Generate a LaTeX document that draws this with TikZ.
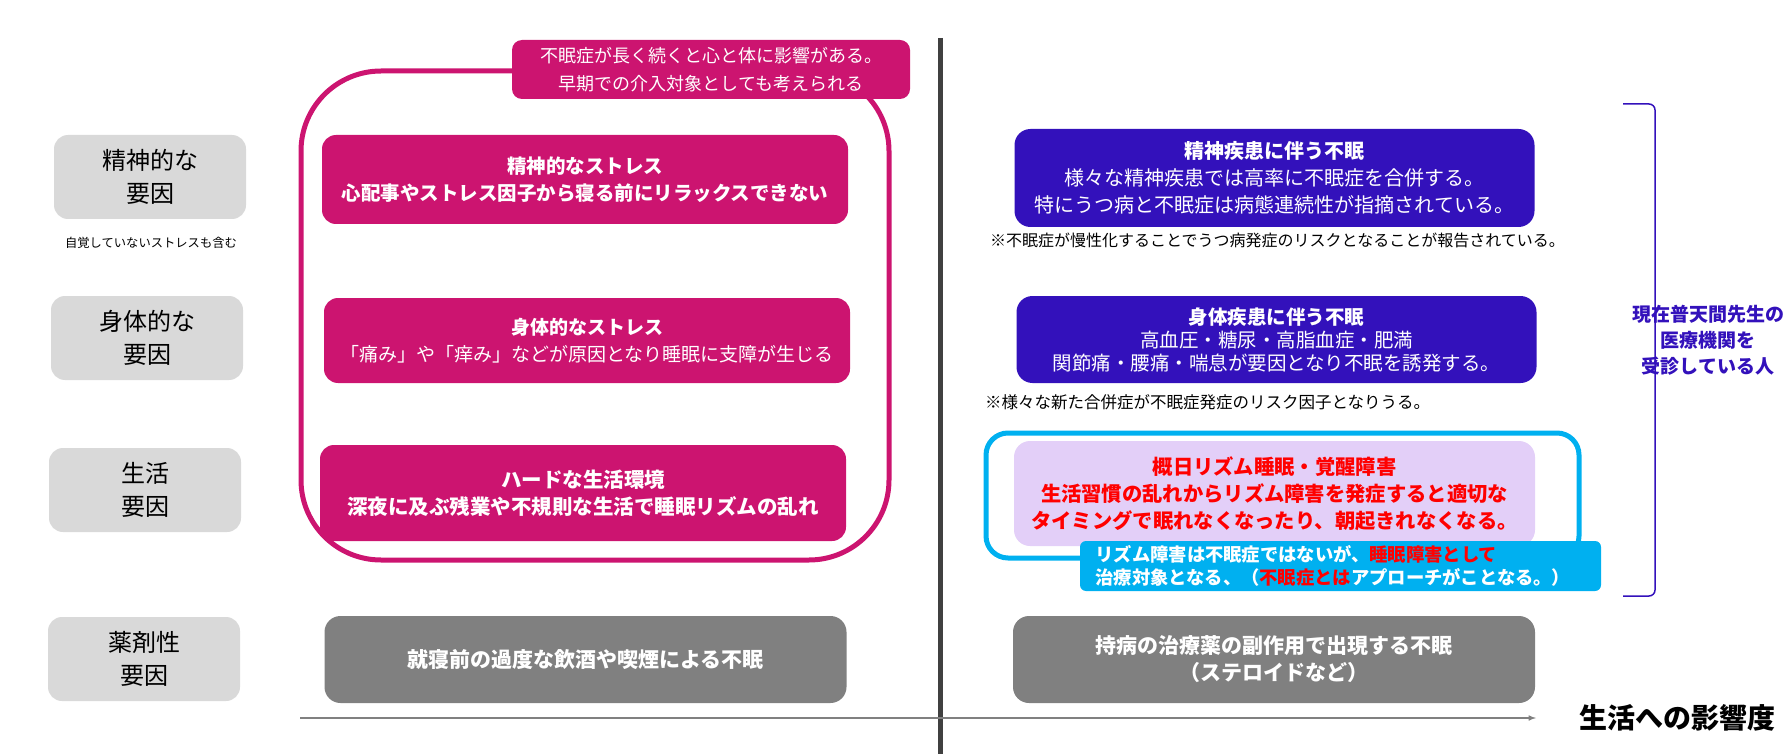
\documentclass[tikz,border=0pt]{standalone}
\usepackage{fontspec}
\setmainfont{Noto Sans CJK JP}
\definecolor{lblgray}{HTML}{D9D9D9}
\definecolor{stressred}{HTML}{CC1470}
\definecolor{diseaseblue}{HTML}{3311BB}
\definecolor{rhythmcyan}{HTML}{00B0F0}
\definecolor{lavender}{HTML}{E3CFF8}
\definecolor{druggray}{HTML}{808080}
\definecolor{divgray}{HTML}{404040}
\begin{document}
\begin{tikzpicture}[x=1pt, y=-1pt, >=latex,
  factor/.style={fill=lblgray, rounded corners=14pt, minimum width=192pt, minimum height=84pt, align=center, font=\fontsize{24}{33}\selectfont},
  stress/.style={fill=stressred, text=white, rounded corners=14pt, minimum width=526pt, align=center},
  disease/.style={fill=diseaseblue, text=white, rounded corners=16pt, minimum width=520pt, align=center},
  drug/.style={fill=druggray, text=white, rounded corners=16pt, minimum width=522pt, minimum height=87pt, align=center, font=\fontsize{21}{27}\selectfont\bfseries},
  remark/.style={anchor=west, inner sep=0pt}]
\useasboundingbox (0,0) rectangle (1791,754);
% Fatores (esquerda)
\node[factor] (mental) at (150,177) {精神的な\\要因};
\node[font=\fontsize{12.3}{15}\selectfont] (unaware) at (151,243) {自覚していないストレスも含む};
\node[factor] (physical) at (147,338) {身体的な\\要因};
\node[factor] (life) at (145,490) {生活\\要因};
\node[factor] (drugf) at (144,659) {薬剤性\\要因};
% Moldura
\node[draw=stressred, line width=5pt, rounded corners=80pt, minimum width=588pt, minimum height=489pt] (frame) at (595,315.5) {};
\node[fill=stressred, text=white, rounded corners=10pt, minimum width=398pt, minimum height=59pt, align=center, font=\fontsize{18}{28}\selectfont] (early) at (711,69.5) {不眠症が長く続くと心と体に影響がある。\\早期での介入対象としても考えられる};
\node[stress, minimum height=89pt, font=\fontsize{19.5}{27}\selectfont\bfseries] (s1) at (585,179.5) {精神的なストレス\\心配事やストレス因子から寝る前にリラックスできない};
\node[stress, minimum height=85pt, font=\fontsize{19}{27}\selectfont] (s2) at (587,340.5) {\textbf{身体的なストレス}\\「痛み」や「痒み」などが原因となり睡眠に支障が生じる};
\node[stress, minimum height=96pt, font=\fontsize{20.5}{27}\selectfont\bfseries] (s3) at (583,493) {ハードな生活環境\\深夜に及ぶ残業や不規則な生活で睡眠リズムの乱れ};
\node[drug] (d1) at (585.5,659.5) {就寝前の過度な飲酒や喫煙による不眠};
% Divisoria e eixo
\coordinate (dtop) at (940,38);
\coordinate (dbot) at (940,754);
\draw[divgray, line width=5pt] (dtop) -- (dbot);
\coordinate (axs) at (300,718);
\coordinate (axe) at (1536,718);
\draw[->, druggray, line width=1.5pt] (axs) -- (axe);
\node[anchor=west, font=\fontsize{28}{30}\selectfont\bfseries] (impact) at (1576,718) {生活への影響度};
% Doencas (direita)
\node[disease, minimum height=98pt, font=\fontsize{20}{27}\selectfont] (b1) at (1274.5,178) {\textbf{精神疾患に伴う不眠}\\様々な精神疾患では高率に不眠症を合併する。\\特にうつ病と不眠症は病態連続性が指摘されている。};
\node[remark, font=\fontsize{16}{18}\selectfont] (n1) at (990,240) {※不眠症が慢性化することでうつ病発症のリスクとなることが報告されている。};
\node[disease, minimum height=87pt, font=\fontsize{19.5}{23}\selectfont] (b2) at (1276.5,339.5) {\textbf{身体疾患に伴う不眠}\\高血圧・糖尿・高脂血症・肥満\\関節痛・腰痛・喘息が要因となり不眠を誘発する。};
\node[remark, font=\fontsize{16.5}{18}\selectfont] (n2) at (985,402) {※様々な新た合併症が不眠症発症のリスク因子となりうる。};
\node[draw=rhythmcyan, line width=5pt, rounded corners=22pt, minimum width=593pt, minimum height=125pt] (rframe) at (1282.5,495.5) {};
\node[fill=lavender, text=red, rounded corners=16pt, minimum width=521pt, minimum height=105pt, align=center, font=\fontsize{20.3}{27}\selectfont\bfseries] (rhythm) at (1274.5,493.5) {概日リズム睡眠・覚醒障害\\生活習慣の乱れからリズム障害を発症すると適切な\\タイミングで眠れなくなったり、朝起きれなくなる。};
\node[fill=rhythmcyan, text=white, rounded corners=6pt, minimum width=521pt, minimum height=50pt, align=left, text width=490pt, font=\fontsize{18.3}{23}\selectfont\bfseries] (treat) at (1340.5,566) {リズム障害は不眠症ではないが、\textcolor{red}{睡眠障害として}\\治療対象となる、（\textcolor{red}{不眠症とは}アプローチがことなる。）};
\node[drug] (d2) at (1274,659.5) {持病の治療薬の副作用で出現する不眠\\（ステロイドなど）};
% Chave
\draw[diseaseblue, line width=1.5pt, rounded corners=6pt] (1623,104) -- (1655,104) -- (1655,596) -- (1623,596);
\node[text=diseaseblue, align=center, font=\fontsize{19}{26}\selectfont\bfseries] (patients) at (1708,340) {現在普天間先生の\\医療機関を\\受診している人};
\end{tikzpicture}
\end{document}
